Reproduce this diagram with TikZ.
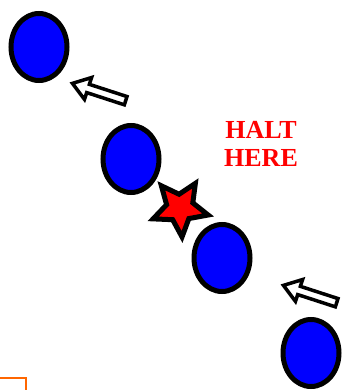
\documentclass[tikz,border=0pt]{standalone}
\usepackage{fontspec}
\setmainfont{Liberation Serif}
\usetikzlibrary{shapes.geometric,shapes.arrows}

\begin{document}
\begin{tikzpicture}[
		x=1pt, y=-1pt,
		ball/.style={draw, ellipse, fill=blue, line width=5pt, minimum width=56pt, minimum height=67pt, inner sep=0pt},
		hollowarrow/.style={draw, single arrow, fill=white, line width=3.5pt, inner sep=2.5pt, minimum height=56pt, minimum width=23pt, single arrow tip angle=70, single arrow head extend=7pt, rotate=162},
		stopmark/.style={draw, star, star points=5, star point ratio=2.1, fill=red, line width=5pt, minimum size=58pt, inner sep=0pt, rotate=40},
		warning/.style={align=center, text=red, font=\fontsize{26}{28}\selectfont\bfseries}
	]
		\useasboundingbox (0,0) rectangle (343,390);
		\node[ball] (ball1) at (39,47) {};
		\node[ball] (ball2) at (131,159) {};
		\node[ball] (ball3) at (222,258) {};
		\node[ball] (ball4) at (311,353) {};
		\node[hollowarrow] (arrow1) at (102,93) {};
		\node[hollowarrow] (arrow2) at (313,295) {};
		\node[stopmark] (stop) at (180,208) {};
		\node[warning] (halt) at (261,144) {HALT\\HERE};
		% corner mark at the lower left
		\draw[line width=2pt, color={rgb,255:red,255;green,102;blue,0}] (0,378) -- (26,378) -- (26,390);
	\end{tikzpicture}
\end{document}
